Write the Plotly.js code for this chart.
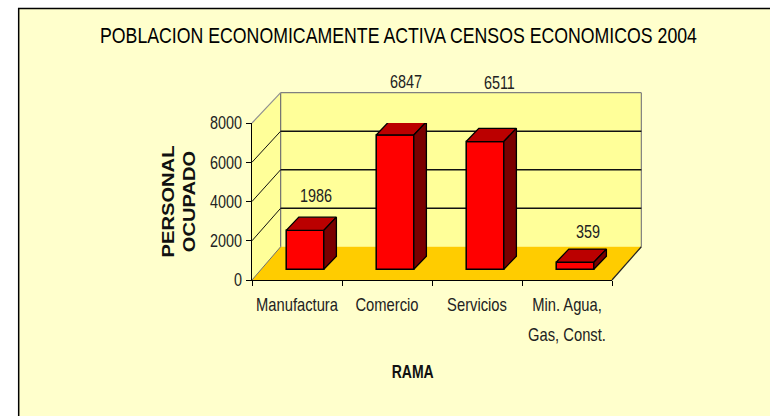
<!DOCTYPE html>
<html>
<head>
<meta charset="utf-8">
<script src="https://cdn.plot.ly/plotly-3.0.1.min.js"></script>
<style>html,body{margin:0;padding:0;background:#fff}#c{width:770px;height:416px}</style>
</head>
<body>
<div id="c"></div>
<script>
const categories = [0, 1, 2, 3];
const tickLabels = ['Manufactura', 'Comercio', 'Servicios', 'Min. Agua,<br>Gas, Const.'];
const personal = [1986, 6847, 6511, 359];
const yTicks = [0, 2000, 4000, 6000, 8000];
const labelLift = [1745, 2700, 2985, 1540];
const labelShift = [-0.02, -0.02, 0.02, 0.01];

const FONT = '"Liberation Sans", Arial, sans-serif';
const L = 251.7, R = 612.3, T = 122.7, B = 280;
const W = 770, H = 416;
const xMin = -0.5, xMax = 3.5, yMax = 8000;
const pxX = (R - L) / (xMax - xMin), pxY = (B - T) / yMax;

// 3D construction
const barBase = 545, barOffset = -0.12, barWidth = 0.418;
const depthX = 12.6 / pxX, depthY = 13.2 / pxY;
const backDX = 28.7, backTop = 92.3, backBottom = 246.7;

const px = x => (x - L) / (R - L);
const py = y => (B - y) / (B - T);
const frontY = v => B - v * pxY;
const backY = v => backBottom - v * (backBottom - backTop) / yMax;
const poly = pts => 'M' + pts.map(p => px(p[0]) + ',' + py(p[1])).join('L') + 'Z';
const seg = (x0, y0, x1, y1, color, width) => ({
  type: 'line', xref: 'paper', yref: 'paper', layer: 'below',
  x0: px(x0), y0: py(y0), x1: px(x1), y1: py(y1), line: {color, width}
});
const area = (pts, fill) => ({
  type: 'path', xref: 'paper', yref: 'paper', layer: 'below',
  path: poly(pts), fillcolor: fill, line: {width: 0}
});

const shapes = [
  {type: 'rect', xref: 'paper', yref: 'paper', layer: 'below',
   x0: px(18), y0: py(8), x1: px(790), y1: py(440),
   fillcolor: '#FFFFCC', line: {color: '#000', width: 1.5}},
  area([[L, B], [L + backDX, backBottom], [L + backDX, backTop], [L, T]], '#FFFF99'),
  area([[L + backDX, backTop], [R + backDX + 0.7, backTop], [R + backDX + 0.7, backBottom], [L + backDX, backBottom]], '#FFFF99'),
  area([[L, B], [R, B], [R + backDX + 0.7, backBottom], [L + backDX, backBottom]], '#FFCC00'),
  seg(L + backDX, backTop, R + backDX + 0.7, backTop, '#808080', 1.2),
  seg(R + backDX + 0.7, backTop, R + backDX + 0.7, backBottom, '#808080', 1.2),
  seg(L + backDX, backTop, L + backDX, backBottom, '#707070', 1.2),
  seg(L, T, L + backDX, backTop, '#909090', 1.2),
  seg(R, B, R + backDX + 0.7, backBottom, '#222', 1.2),
  seg(L, B, L + backDX, backBottom, '#707070', 1)
];
yTicks.filter(v => v > 0 && v < yMax).forEach(v => {
  shapes.push(seg(L, frontY(v), L + backDX, backY(v), '#111', 1));
  shapes.push(seg(L + backDX, backY(v), R + backDX + 0.7, backY(v), '#111', 1.6));
});

const x0s = categories.map(c => c + barOffset);
const x1s = x0s.map(x => x + barWidth);
const tops = personal.map(v => v + barBase);

const bars = {
  type: 'bar', x: categories, y: personal, base: barBase, offset: barOffset, width: barWidth,
  marker: {color: '#FF0000', line: {color: '#000', width: 1.5}},
  hoverinfo: 'x+y', showlegend: false
};
const faceTrace = (xs, ys, color) => ({
  type: 'scatter', mode: 'lines', x: xs, y: ys, fill: 'toself', fillcolor: color,
  line: {color: '#000', width: 1.3}, cliponaxis: false, hoverinfo: 'skip', showlegend: false
});
const faces = [];
categories.forEach((c, i) => {
  faces.push(faceTrace(
    [x0s[i], x1s[i], x1s[i] + depthX, x0s[i] + depthX, x0s[i]],
    [tops[i], tops[i], tops[i] + depthY, tops[i] + depthY, tops[i]], '#BB0000'));
  faces.push(faceTrace(
    [x1s[i], x1s[i] + depthX, x1s[i] + depthX, x1s[i], x1s[i]],
    [barBase, barBase + depthY, tops[i] + depthY, tops[i], barBase], '#7A0000'));
});
const annotations = personal.map((v, i) => ({
  x: x0s[i] + barWidth / 2 + depthX + labelShift[i], xref: 'x',
  y: (tops[i] + labelLift[i]) / yMax, yref: 'paper',
  text: String(v), showarrow: false, xanchor: 'center', yanchor: 'middle',
  font: {family: FONT, size: 18, color: '#222'}
}));
const tickAnchor = {
  type: 'scatter', mode: 'none', x: [xMin, xMax], y: [0, 0], xaxis: 'x2', yaxis: 'y',
  hoverinfo: 'skip', showlegend: false
};

const layout = {
  width: W, height: H,
  margin: {l: L, r: W - R, t: T, b: H - B, pad: 0},
  paper_bgcolor: '#FFFFFF', plot_bgcolor: 'rgba(0,0,0,0)',
  showlegend: false, shapes, annotations,
  font: {family: FONT, size: 18, color: '#222'},
  title: {text: 'POBLACION ECONOMICAMENTE ACTIVA CENSOS ECONOMICOS 2004',
    font: {family: FONT, size: 22, color: '#000'}, x: 398.5 / W, xanchor: 'center', y: 1 - 35 / H, yanchor: 'middle'},
  xaxis: {
    range: [xMin, xMax], tickmode: 'array', tickvals: categories, ticktext: tickLabels, tickangle: 0,
    ticks: 'outside', ticklen: 8, tickcolor: 'rgba(0,0,0,0)', showline: false, showgrid: false, zeroline: false,
    tickfont: {family: FONT, size: 18, color: '#222'},
    title: {text: '<b>RAMA</b>', font: {family: FONT, size: 18, color: '#111'}, standoff: 26}
  },
  xaxis2: {
    range: [xMin, xMax], overlaying: 'x', anchor: 'y', side: 'bottom', tickmode: 'array',
    tickvals: [-0.5, 0.5, 1.5, 2.5, 3.5], ticktext: ['', '', '', '', ''],
    ticks: 'outside', ticklen: 5, tickcolor: '#000', showline: true, linecolor: '#000', linewidth: 1.3,
    showgrid: false, zeroline: false
  },
  yaxis: {
    range: [0, yMax], tickmode: 'array', tickvals: yTicks, ticktext: yTicks.map(String),
    ticks: 'outside', ticklen: 5, tickcolor: '#000', showline: true, linecolor: '#000', linewidth: 1.3,
    showgrid: false, zeroline: false, tickfont: {family: FONT, size: 18, color: '#222'},
    title: {text: '<b>PERSONAL<br>OCUPADO</b>', font: {family: FONT, size: 16, color: '#111'}, standoff: 2}
  }
};

// The original lettering is horizontally condensed: squeeze each text about its own anchor.
function squeeze(selector, s) {
  document.querySelectorAll(selector).forEach(t => {
    const cx = parseFloat(t.getAttribute('x')) || 0;
    const prev = t.getAttribute('transform') || '';
    t.setAttribute('transform', prev + ' translate(' + cx + ',0) scale(' + s + ',1) translate(' + (-cx) + ',0)');
  });
}
Plotly.newPlot('c', [bars].concat(faces, [tickAnchor]), layout, {displayModeBar: false, staticPlot: true}).then(() => {
  const xt = document.querySelector('#c .xtitle');
  if (xt) { xt.setAttribute('x', 412.7); xt.setAttribute('y', 378); xt.removeAttribute('transform'); }
  document.querySelectorAll('#c .xtick text tspan.line').forEach(sp => {
    const dy = parseFloat(sp.getAttribute('dy'));
    if (dy > 0) sp.setAttribute('dy', '30px');
  });
  squeeze('#c .gtitle', 0.805);
  squeeze('#c .xtick text', 0.82);
  squeeze('#c .ytick text', 0.8);
  squeeze('#c .xtitle', 0.78);
  squeeze('#c .ytitle', 1.26);
  squeeze('#c .annotation-text-g text', 0.8);
});
</script>
</body>
</html>
